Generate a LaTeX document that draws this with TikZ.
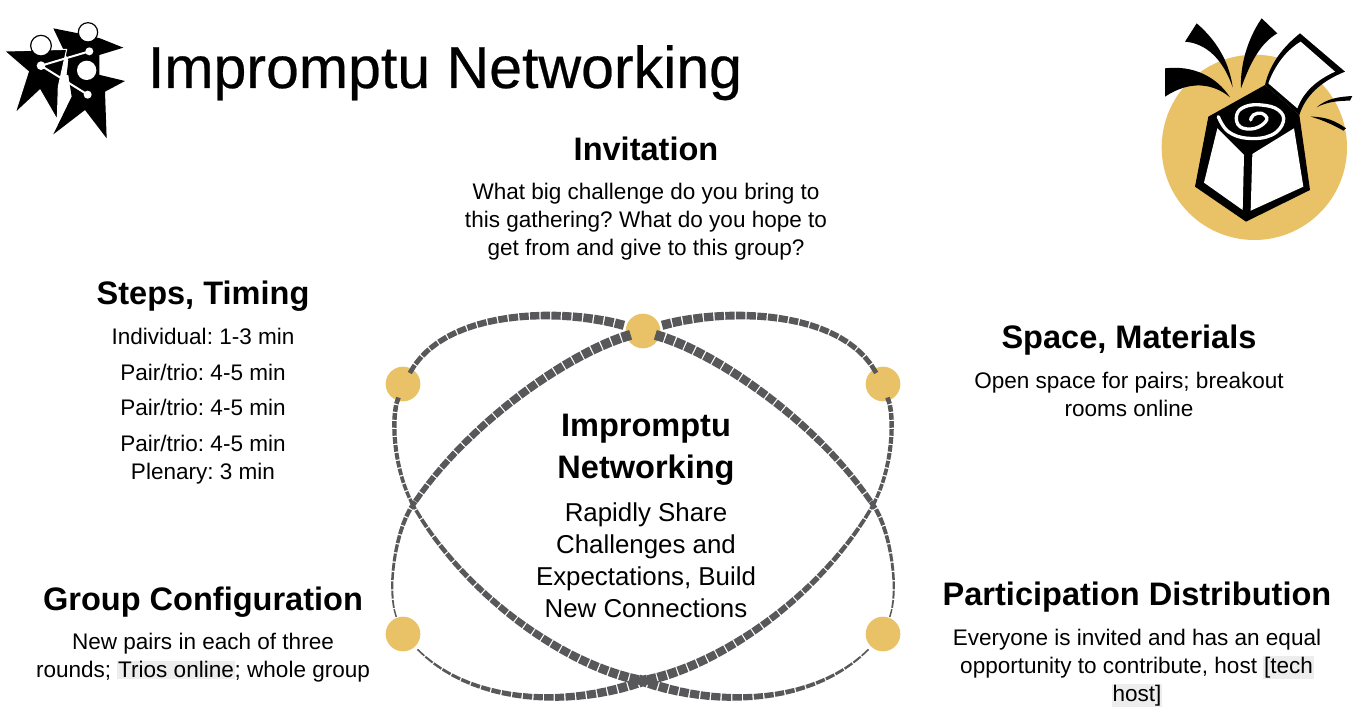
\documentclass[tikz,border=0pt]{standalone}
\usepackage{fontspec}
\usepackage{xcolor}
\usetikzlibrary{decorations.markings}
\setmainfont{Liberation Sans}
\newfontfamily\titlefont[FakeBold=0.4]{Liberation Sans}
\frenchspacing
\definecolor{dotgold}{HTML}{E9C268}
\definecolor{linkgrey}{HTML}{58585A}
\definecolor{hilite}{HTML}{EDEDED}
\newcommand{\hilight}[1]{{\setlength{\fboxsep}{0.6pt}\colorbox{hilite}{#1}}}
\tikzset{taper/.style n args={3}{decoration={markings,
  mark=between positions 0 and 1 step #3 with {
    \pgfmathsetmacro{\dashw}{#1+(#2-#1)*\pgfkeysvalueof{/pgf/decoration/mark info/distance from start}/\pgfdecoratedpathlength}
    \fill[linkgrey] (-#3/2+0.5pt,-\dashw pt/2) rectangle (#3/2-0.5pt,\dashw pt/2);
  }},postaction=decorate}}

\begin{document}
\begin{tikzpicture}[x=0.75pt,y=-0.75pt]%
  \tikzstyle{dot}=[circle,fill=dotgold,inner sep=0,minimum size=26]
  \tikzstyle{heading}=[align=center,font=\fontsize{24.4}{31.5}\selectfont\bfseries]
  \tikzstyle{body}=[align=center,font=\fontsize{16.9}{21}\selectfont]
  \useasboundingbox (0,0) rectangle (1370,724);
  % title
  \node(title)[anchor=base,font=\fontsize{44.3}{50}\selectfont\titlefont] at (445,88){Impromptu Networking};
  % text blocks
  \node(inviteh)[heading] at (646,149){Invitation};
  \node(invite)[body] at (646,222){What big challenge do you bring to\\this gathering? What do you hope to\\get from and give to this group?};
  \node(stepsh)[heading] at (203,296){Steps, Timing};
  \node(steps)[body] at (203,406){Individual: 1-3 min\\[5.6pt]Pair/trio: 4-5 min\\[5.6pt]Pair/trio: 4-5 min\\[5.6pt]Pair/trio: 4-5 min\\Plenary: 3 min};
  \node(spaceh)[heading] at (1129,340){Space, Materials};
  \node(space)[body] at (1129,394){Open space for pairs; breakout\\rooms online};
  \node(centreh)[heading] at (646,450){Impromptu\\Networking};
  \node(centre)[body,font=\fontsize{19.4}{24}\selectfont] at (646,560){Rapidly Share\\Challenges and\\Expectations, Build\\New Connections};
  \node(grouph)[heading] at (203,602){Group Configuration};
  \node(group)[body] at (203,658){New pairs in each of three\\rounds; \hilight{Trios online}; whole group};
  \node(parth)[heading] at (1137,597){Participation Distribution};
  \node(part)[body] at (1137,668){Everyone is invited and has an equal\\opportunity to contribute, host \hilight{[tech}\\\hilight{host]}};
  % dots and crossings
  \node(top)[dot] at (643,331){};
  \node(ul)[dot] at (403,384){};
  \node(ur)[dot] at (883,384){};
  \node(ll)[dot] at (403,634){};
  \node(lr)[dot] at (883,634){};
  \coordinate(crossl) at (413,505);
  \coordinate(crossr) at (873,505);
  \coordinate(bot) at (643,681);
  % upper arcs
  \path[taper={3.5}{7}{8pt}] (ul) .. controls (450,308) and (565,308) .. (top);
  \path[taper={3.5}{7}{8pt}] (ur) .. controls (836,308) and (721,308) .. (top);
  % from the top dot across to the far dots
  \path[taper={7.5}{4}{8pt}] (top) .. controls (720,355) and (820,425) .. (crossr);
  \path[taper={7.5}{4}{8pt}] (top) .. controls (566,355) and (466,425) .. (crossl);
  \path[taper={3.5}{1}{7pt}] (crossr) .. controls (890,528) and (900,590) .. (lr);
  \path[taper={3.5}{1}{7pt}] (crossl) .. controls (396,528) and (386,590) .. (ll);
  % from the upper dots down through the bottom
  \path[taper={3.5}{2.5}{6pt}] (ur) .. controls (895,420) and (892,470) .. (crossr);
  \path[taper={3.5}{2.5}{6pt}] (ul) .. controls (391,420) and (394,470) .. (crossl);
  \path[taper={2.5}{7.5}{8pt}] (crossr) .. controls (825,590) and (725,665) .. (bot);
  \path[taper={2.5}{7.5}{8pt}] (crossl) .. controls (461,590) and (561,665) .. (bot);
  \path[taper={7.5}{1}{8pt}] (bot) .. controls (570,708) and (470,705) .. (ll);
  \path[taper={7.5}{1}{8pt}] (bot) .. controls (716,708) and (816,705) .. (lr);
  % people logo
  \begin{scope}[x=0.25pt,y=-0.25pt]
    \fill (160,85) -- (235,100) -- (300,115) -- (370,143) -- (298,165) -- (298,225) -- (200,225) -- (205,180) -- cycle;
    \fill[draw=white,line width=0.8pt] (13,153) -- (200,148) -- (175,260) -- (172,360) -- (120,270) -- (45,340) -- (85,215) -- cycle;
    \fill (205,225) -- (300,225) -- (375,243) -- (315,275) -- (320,415) -- (255,330) -- (160,403) -- (215,290) -- cycle;
    \draw[fill=white,line width=0.9pt] (123,137) circle (31);
    \draw[fill=white,line width=0.9pt] (264,97) circle (29);
    \fill[white] (260,211) circle (29);
    \draw[white,line width=1.5pt] (268,154) -- (123,197) -- (263,284);
    \fill[white] (123,197) circle (13);
    \fill[white] (268,154) circle (12);
    \fill[white] (263,284) circle (12);
  \end{scope}
  % gift box logo
  \begin{scope}[shift={(1140,0)},x=0.25pt,y=-0.25pt]
    \fill[dotgold] (343,442) circle (278);
    \fill (170,70) .. controls (240,130) and (270,200) .. (278,262) .. controls (250,180) and (200,130) .. (135,125) -- cycle;
    \fill (365,55) .. controls (320,120) and (300,200) .. (303,265) .. controls (330,190) and (360,130) .. (412,100) -- cycle;
    \fill (75,205) .. controls (160,195) and (230,230) .. (270,292) .. controls (220,250) and (150,240) .. (75,290) -- cycle;
    \fill (530,322) .. controls (560,295) and (600,290) .. (637,288) -- (630,302) .. controls (600,302) and (560,305) .. (530,322) -- cycle;
    \fill (512,350) .. controls (560,350) and (590,365) .. (618,385) -- (610,392) .. controls (590,380) and (550,360) .. (512,350) -- cycle;
    \fill (375,255) .. controls (390,190) and (430,140) .. (480,100) -- (615,215) .. controls (540,245) and (495,290) .. (478,345) -- cycle;
    \fill[white] (385,250) .. controls (405,195) and (440,150) .. (482,125) -- (585,215) .. controls (530,240) and (490,275) .. (472,325) -- cycle;
    \fill (205,350) -- (375,255) -- (478,345) -- (510,570) -- (318,665) -- (165,560) -- cycle;
    \fill[white] (232,385) -- (312,465) -- (308,630) -- (192,548) -- cycle;
    \fill[white] (337,462) -- (462,385) -- (490,560) -- (332,632) -- cycle;
    \draw[white,line width=2.5pt,line cap=round] plot[smooth,tension=0.7] coordinates {(235,350) (265,395) (325,415) (395,405) (430,365) (415,330) (365,315) (315,320) (290,345) (300,380) (345,385) (380,360) (365,340) (340,345) (332,360)};
  \end{scope}
\end{tikzpicture}
\end{document}
